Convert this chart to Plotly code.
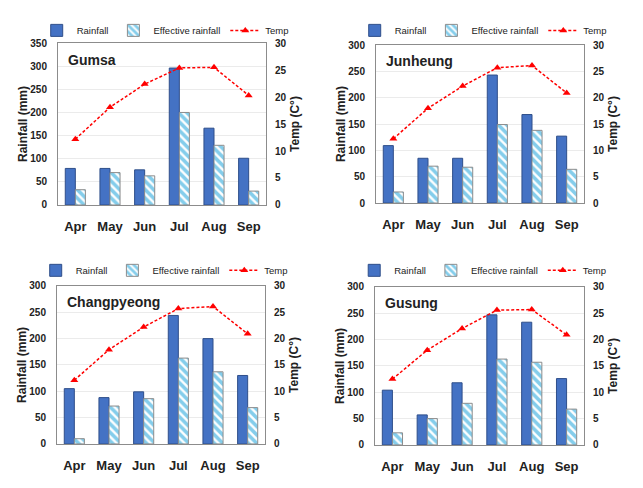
import plotly.graph_objects as go

months = ["Apr", "May", "Jun", "Jul", "Aug", "Sep"]
stations = ["Gumsa", "Junheung", "Changpyeong", "Gusung"]

rain_gumsa = [79, 79, 76, 296, 166, 101]
eff_gumsa = [33, 70, 63, 200, 129, 30]
temp_gumsa = [12.2, 18.1, 22.4, 25.4, 25.5, 20.3]

rain_junheung = [109, 85, 85, 243, 168, 127]
eff_junheung = [21, 70, 68, 149, 138, 64]
temp_junheung = [12.2, 18.0, 22.2, 25.7, 26.1, 20.9]

rain_changpyeong = [105, 88, 99, 244, 200, 130]
eff_changpyeong = [10, 72, 86, 163, 137, 69]
temp_changpyeong = [12.1, 17.9, 22.2, 25.7, 26.1, 20.9]

rain_gusung = [104, 57, 118, 247, 233, 126]
eff_gusung = [23, 50, 79, 163, 157, 68]
temp_gusung = [12.5, 18.0, 22.1, 25.6, 25.7, 20.9]

rain_max = [350, 300, 300, 300]
temp_max = [30, 30, 30, 30]

rains = [rain_gumsa, rain_junheung, rain_changpyeong, rain_gusung]
effs = [eff_gumsa, eff_junheung, eff_changpyeong, eff_gusung]
temps = [temp_gumsa, temp_junheung, temp_changpyeong, temp_gusung]

W, H = 643, 488
# plot-area pixel boxes: (x0, x1, y0, y1) from top
boxes = [(58, 266, 38, 204), (376, 584, 40, 202), (57, 265, 287, 449), (375, 584, 288, 450)]
legend_y = [25, 25, 271, 271]

FONT = "Liberation Sans"
fig = go.Figure()
layout = dict(
    width=W, height=H, margin=dict(l=0, r=0, t=0, b=0),
    paper_bgcolor="white", plot_bgcolor="white",
    barmode="group", bargap=0.42, bargroupgap=0.0,
    font=dict(family=FONT, color="#222222"),
    annotations=[],
)

for i in range(4):
    xa = "x" if i == 0 else f"x{i+1}"
    ya = "y" if i == 0 else f"y{2*i+1}"
    yb = f"y{2*i+2}"
    leg = "legend" if i == 0 else f"legend{i+1}"
    x0, x1, y0, y1 = boxes[i]
    xdom = [x0 / W, x1 / W]
    ydom = [1 - y1 / H, 1 - y0 / H]

    fig.add_trace(go.Bar(
        x=months, y=rains[i], name="Rainfall", xaxis=xa, yaxis=ya, legend=leg,
        marker=dict(color="#4472C4", line=dict(color="#2F4F8A", width=1)),
        offsetgroup="a",
    ))
    fig.add_trace(go.Bar(
        x=months, y=effs[i], name="Effective rainfall", xaxis=xa, yaxis=ya, legend=leg,
        marker=dict(color="white", line=dict(color="#8C8C8C", width=1),
                    pattern=dict(shape="\\", fgcolor="#0A9CD8", bgcolor="white",
                                 size=6, solidity=0.6)),
        offsetgroup="b",
    ))
    fig.add_trace(go.Scatter(
        x=months, y=temps[i], name="Temp", xaxis=xa, yaxis=yb, legend=leg,
        mode="lines+markers",
        line=dict(color="#FF0000", width=1.5, dash="3px,2px"),
        marker=dict(symbol="triangle-up", size=7, color="#FF0000"),
    ))

    xkey = "xaxis" if i == 0 else f"xaxis{i+1}"
    ykey = "yaxis" if i == 0 else f"yaxis{2*i+1}"
    ykey2 = f"yaxis{2*i+2}"
    layout[xkey] = dict(
        domain=xdom, anchor=ya, showline=True, mirror=True, linecolor="#8C8C8C",
        linewidth=1, ticks="", showgrid=False, ticklabelstandoff=9,
        tickfont=dict(family=FONT, size=13, color="#222222", weight="bold"),
    )
    layout[ykey] = dict(
        domain=ydom, anchor=xa, range=[0, rain_max[i]], dtick=50,
        showline=True, linecolor="#8C8C8C", linewidth=1,
        showgrid=True, gridcolor="#EBEBEB", gridwidth=1, zeroline=False,
        ticks="", ticklabelstandoff=8,
        tickfont=dict(family=FONT, size=10, color="#222222", weight="bold"),
        title=dict(text="Rainfall (mm)", standoff=0,
                   font=dict(family=FONT, size=12, color="#222222", weight="bold")),
    )
    layout[ykey2] = dict(
        overlaying=ya, anchor=xa, side="right", range=[0, temp_max[i]], dtick=5,
        showline=True, linecolor="#8C8C8C", linewidth=1, showgrid=False,
        zeroline=False, ticks="", ticklabelstandoff=6,
        tickfont=dict(family=FONT, size=10, color="#222222", weight="bold"),
        title=dict(text="Temp (C°)", standoff=5,
                   font=dict(family=FONT, size=12, color="#222222", weight="bold")),
    )
    layout[leg] = dict(
        orientation="h", x=(x0 + x1) / 2 / W + 0.005, xanchor="center",
        y=1 - legend_y[i] / H, yanchor="middle",
        font=dict(family=FONT, size=9.5, color="#222222"),
        bgcolor="rgba(0,0,0,0)", itemwidth=30, tracegroupgap=0,
    )
    layout["annotations"].append(dict(
        text=stations[i], xref=f"{xa} domain", yref=f"{ya} domain",
        x=0.04, y=0.96, xanchor="left", yanchor="top", showarrow=False,
        font=dict(family=FONT, size=14, color="#222222", weight="bold"),
    ))

fig.update_layout(**layout)
fig.write_html("out.html")
